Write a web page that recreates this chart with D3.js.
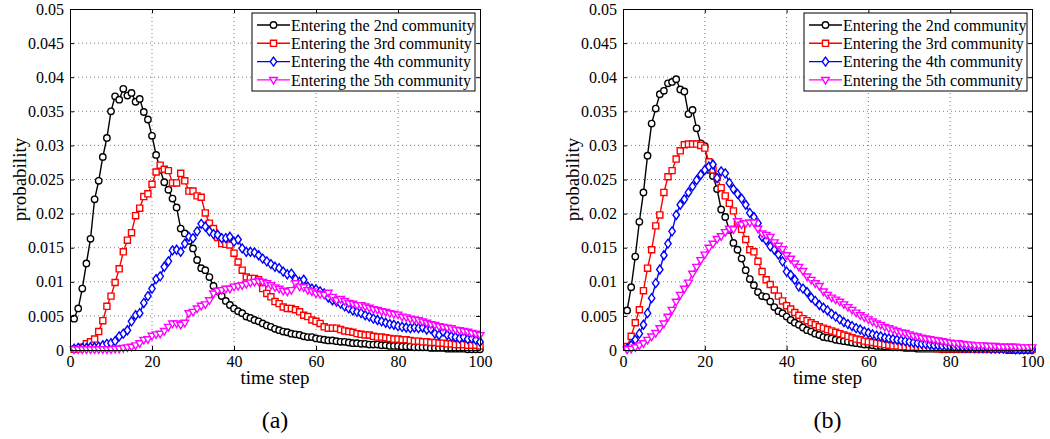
<!DOCTYPE html>
<html>
<head>
<meta charset="utf-8">
<script src="https://cdn.jsdelivr.net/npm/d3@7"></script>
<style>
    body { margin: 0; background: #fff; }
    svg { font-family: 'Liberation Serif', Times, serif; }
</style>
</head>
<body>
<svg id="chart" width="1050" height="439"></svg>
<script>
// probabilities in units of 0.001, one value per time step 1..100
const panelA_2nd = [
    4.6, 6.1, 9.0, 12.7, 16.3, 22.1, 24.8, 28.3, 31.1, 35.0,
    37.2, 36.7, 38.3, 37.3, 37.7, 36.4, 36.8, 34.9, 33.8, 31.4,
    28.6, 26.4, 24.6, 23.5, 22.2, 20.9, 17.8, 17.1, 16.0, 14.9,
    13.2, 12.0, 11.7, 10.7, 9.4, 8.6, 7.9, 7.2, 6.6, 6.1,
    5.7, 5.4, 4.9, 4.7, 4.4, 4.2, 3.9, 3.6, 3.4, 3.1,
    2.9, 2.7, 2.6, 2.4, 2.3, 2.2, 2.0, 1.9, 1.9, 1.7,
    1.6, 1.5, 1.4, 1.4, 1.3, 1.2, 1.2, 1.1, 1.0, 1.0,
    0.9, 0.9, 0.8, 0.8, 0.8, 0.7, 0.7, 0.6, 0.6, 0.6,
    0.5, 0.5, 0.5, 0.4, 0.4, 0.4, 0.4, 0.3, 0.3, 0.3,
    0.3, 0.2, 0.2, 0.2, 0.2, 0.2, 0.1, 0.1, 0.1, 0.1
];
const panelA_3rd = [
    0.1, 0.2, 0.4, 0.9, 1.2, 1.6, 2.7, 4.3, 6.4, 7.9,
    9.9, 11.9, 14.4, 16.1, 17.2, 19.7, 20.8, 22.5, 22.9, 24.3,
    26.1, 27.1, 26.5, 26.3, 24.5, 24.5, 25.9, 24.8, 23.3, 23.3,
    22.6, 22.4, 20.1, 18.6, 17.8, 16.5, 15.6, 15.5, 15.4, 14.2,
    12.9, 11.7, 10.7, 10.5, 10.5, 10.3, 9.0, 8.3, 7.8, 7.1,
    6.8, 6.3, 6.1, 6.1, 5.9, 5.6, 5.1, 4.9, 4.4, 4.2,
    3.9, 3.4, 3.2, 3.2, 3.2, 3.0, 2.8, 2.7, 2.6, 2.4,
    2.3, 2.2, 2.2, 2.0, 1.9, 1.9, 1.8, 1.7, 1.6, 1.6,
    1.5, 1.5, 1.4, 1.3, 1.3, 1.2, 1.2, 1.1, 1.1, 1.0,
    1.0, 0.9, 0.9, 0.8, 0.8, 0.8, 0.7, 0.7, 0.7, 0.6
];
const panelA_4th = [
    0.2, 0.3, 0.3, 0.3, 0.4, 0.4, 0.5, 0.7, 0.9, 1.0,
    1.3, 2.0, 2.4, 2.9, 4.2, 5.1, 5.4, 6.9, 7.9, 9.0,
    10.4, 10.8, 12.2, 13.0, 14.6, 14.7, 14.4, 15.6, 16.6, 16.4,
    17.4, 18.5, 18.1, 17.4, 17.0, 16.9, 16.4, 16.4, 16.6, 15.9,
    16.2, 14.9, 14.4, 14.4, 14.3, 13.9, 13.4, 13.0, 12.6, 12.2,
    12.0, 11.5, 11.1, 11.2, 10.4, 10.0, 10.3, 9.3, 9.0, 8.9,
    8.6, 8.3, 7.7, 7.3, 7.1, 6.8, 6.4, 6.1, 5.8, 5.6,
    5.4, 5.1, 4.9, 4.6, 4.4, 4.2, 4.0, 3.8, 3.7, 3.5,
    3.4, 3.3, 3.2, 3.3, 3.2, 3.3, 3.0, 3.1, 2.4, 2.2,
    2.7, 2.2, 2.0, 1.9, 1.7, 1.9, 1.6, 1.7, 1.5, 1.2
];
const panelA_5th = [
    0.1, 0.1, 0.1, 0.1, 0.1, 0.1, 0.1, 0.1, 0.1, 0.1,
    0.2, 0.2, 0.3, 0.4, 0.5, 0.7, 1.0, 1.5, 1.6, 2.1,
    2.3, 2.4, 2.8, 3.4, 3.9, 3.9, 3.7, 4.0, 5.4, 5.6,
    6.1, 6.5, 6.7, 7.3, 8.3, 8.7, 8.8, 9.0, 9.0, 9.3,
    9.4, 9.5, 9.7, 9.9, 10.0, 10.1, 10.0, 9.8, 9.5, 9.2,
    9.0, 8.7, 8.6, 8.8, 9.8, 9.3, 9.2, 8.8, 8.6, 8.3,
    8.2, 8.1, 8.4, 7.8, 7.3, 7.5, 7.2, 6.9, 6.8, 6.6,
    6.6, 6.4, 6.2, 6.0, 5.9, 5.7, 5.6, 5.4, 5.3, 5.2,
    4.9, 4.8, 4.6, 4.5, 4.4, 4.2, 4.0, 3.8, 3.7, 3.5,
    3.4, 3.3, 3.2, 3.0, 2.9, 2.8, 2.7, 2.5, 2.4, 2.2
];
const panelB_2nd = [
    5.8, 9.2, 13.7, 18.8, 23.1, 28.5, 33.2, 35.4, 37.5, 38.0,
    39.1, 39.3, 39.7, 38.2, 37.9, 34.6, 35.2, 32.5, 30.3, 29.9,
    26.4, 25.5, 23.6, 20.6, 19.5, 17.6, 15.7, 14.7, 13.4, 11.7,
    10.4, 9.5, 8.5, 7.9, 7.8, 7.1, 6.3, 5.7, 5.4, 4.9,
    4.4, 4.0, 3.7, 3.3, 2.9, 2.7, 2.4, 2.2, 1.9, 1.8,
    1.7, 1.5, 1.4, 1.3, 1.2, 1.1, 1.0, 0.9, 0.8, 0.8,
    0.7, 0.6, 0.6, 0.5, 0.5, 0.4, 0.4, 0.4, 0.3, 0.3,
    0.3, 0.2, 0.2, 0.2, 0.2, 0.2, 0.2, 0.1, 0.1, 0.1,
    0.1, 0.1, 0.1, 0.1, 0.1, 0.1, 0.1, 0.1, 0.1, 0.1,
    0.1, 0.1, 0.1, 0.0, 0.0, 0.0, 0.0, 0.0, 0.0, 0.0
];
const panelB_3rd = [
    0.5, 2.0, 4.0, 5.9, 8.7, 12.0, 14.7, 18.2, 19.8, 23.1,
    25.4, 26.3, 28.0, 29.2, 30.1, 30.2, 30.2, 30.2, 30.0, 29.6,
    27.6, 26.4, 25.3, 23.8, 22.6, 21.5, 20.4, 18.6, 17.7, 16.2,
    14.7, 14.4, 13.0, 11.5, 10.3, 9.6, 8.8, 7.9, 7.2, 6.5,
    6.0, 5.5, 5.1, 4.6, 4.3, 4.0, 3.7, 3.4, 3.2, 3.0,
    2.8, 2.6, 2.4, 2.2, 2.0, 1.8, 1.6, 1.5, 1.3, 1.2,
    1.1, 1.0, 0.9, 0.8, 0.7, 0.6, 0.6, 0.5, 0.5, 0.4,
    0.4, 0.4, 0.3, 0.3, 0.3, 0.3, 0.2, 0.2, 0.2, 0.2,
    0.2, 0.2, 0.2, 0.2, 0.2, 0.1, 0.1, 0.1, 0.1, 0.1,
    0.1, 0.1, 0.1, 0.1, 0.1, 0.1, 0.1, 0.1, 0.1, 0.1
];
const panelB_4th = [
    0.2, 0.7, 1.5, 2.4, 3.7, 5.4, 7.6, 9.8, 11.8, 13.9,
    15.6, 17.4, 19.8, 21.3, 22.1, 23.1, 24.0, 24.9, 25.7, 26.4,
    26.9, 27.2, 25.2, 26.2, 25.9, 24.5, 23.6, 22.9, 22.2, 21.3,
    20.1, 19.5, 18.6, 16.6, 16.1, 15.2, 14.7, 14.0, 13.0, 11.5,
    11.0, 10.3, 9.3, 9.0, 8.5, 7.7, 7.2, 6.6, 6.2, 5.8,
    5.3, 4.9, 4.5, 4.1, 3.8, 3.5, 3.2, 3.0, 2.7, 2.5,
    2.3, 2.1, 2.0, 1.8, 1.7, 1.6, 1.5, 1.4, 1.3, 1.2,
    1.1, 1.0, 0.9, 0.9, 0.8, 0.7, 0.7, 0.6, 0.6, 0.5,
    0.5, 0.5, 0.4, 0.4, 0.4, 0.3, 0.3, 0.3, 0.3, 0.2,
    0.2, 0.2, 0.2, 0.2, 0.2, 0.1, 0.1, 0.1, 0.1, 0.1
];
const panelB_5th = [
    0.1, 0.2, 0.4, 0.7, 1.0, 1.5, 2.0, 2.5, 3.2, 3.9,
    4.9, 5.9, 7.1, 8.1, 9.0, 9.9, 11.2, 12.2, 13.2, 14.0,
    15.0, 15.6, 16.3, 16.7, 17.3, 17.8, 17.7, 18.9, 18.4, 18.6,
    18.7, 18.7, 17.8, 17.1, 16.9, 16.6, 15.8, 15.3, 14.8, 13.9,
    13.4, 12.7, 12.2, 11.6, 10.8, 10.3, 9.8, 9.4, 8.6, 8.1,
    7.7, 7.4, 7.1, 6.7, 6.3, 5.9, 5.5, 5.1, 4.8, 4.5,
    4.2, 3.9, 3.7, 3.4, 3.2, 3.0, 2.8, 2.6, 2.5, 2.3,
    2.1, 2.0, 1.8, 1.7, 1.6, 1.5, 1.4, 1.3, 1.2, 1.1,
    1.0, 1.0, 0.9, 0.8, 0.8, 0.7, 0.7, 0.7, 0.6, 0.6,
    0.6, 0.5, 0.5, 0.5, 0.5, 0.5, 0.4, 0.4, 0.4, 0.4
];

const legendLabels = [
    'Entering the 2nd community',
    'Entering the 3rd community',
    'Entering the 4th community',
    'Entering the 5th community'
];
const xTicks = [0, 20, 40, 60, 80, 100];
const yTicks = [0, 0.005, 0.01, 0.015, 0.02, 0.025, 0.03, 0.035, 0.04, 0.045, 0.05];
const panelCaptions = ['(a)', '(b)'];

(function () {
    const svg = d3.select('#chart');
    const FONT = "'Liberation Serif', Times, serif";
    const plotTop = 9, plotBottom = 350, TICK = 4;

    const colors = ['#000000', '#ff0000', '#0000ff', '#ff00ff'];
    // marker shapes: circle, square, diamond, down triangle
    const markers = [
        { draw(c, s) { c.moveTo(s, 0); c.arc(0, 0, s, 0, 2 * Math.PI); } },
        { draw(c, s) { c.rect(-s * 0.95, -s * 0.95, s * 1.9, s * 1.9); } },
        { draw(c, s) { c.moveTo(0, -s * 1.4); c.lineTo(s, 0); c.lineTo(0, s * 1.4); c.lineTo(-s, 0); c.closePath(); } },
        { draw(c, s) { c.moveTo(-s * 1.2, -s * 0.75); c.lineTo(s * 1.2, -s * 0.75); c.lineTo(0, s * 1.3); c.closePath(); } }
    ];
    const markerSize = 3.2;

    let panels = [
        { left: 70, right: 480, caption: panelCaptions[0], series: [panelA_2nd, panelA_3rd, panelA_4th, panelA_5th] },
        { left: 623, right: 1032, caption: panelCaptions[1], series: [panelB_2nd, panelB_3rd, panelB_4th, panelB_5th] }
    ];

    panels.forEach(p => {
        let x = d3.scaleLinear().domain([0, 100]).range([p.left, p.right]);
        let y = d3.scaleLinear().domain([0, 0.05]).range([plotBottom, plotTop]);
        let g = svg.append('g');

        // dotted grid
        g.append('g').selectAll('line')
            .data(xTicks.slice(1, -1))
            .join('line')
            .attr('x1', d => x(d)).attr('x2', d => x(d))
            .attr('y1', plotTop).attr('y2', plotBottom)
            .attr('stroke', '#808080')
            .attr('stroke-dasharray', '1,3')
        ;
        g.append('g').selectAll('line')
            .data(yTicks.slice(1, -1))
            .join('line')
            .attr('x1', p.left).attr('x2', p.right)
            .attr('y1', d => y(d)).attr('y2', d => y(d))
            .attr('stroke', '#808080')
            .attr('stroke-dasharray', '1,3')
        ;

        // series lines + markers
        let line = d3.line()
            .x((d, i) => x(i + 1))
            .y(d => y(d / 1000))
        ;
        p.series.forEach((vals, k) => {
            g.append('path')
                .attr('d', line(vals))
                .attr('fill', 'none')
                .attr('stroke', colors[k])
                .attr('stroke-width', 1.4)
            ;
            g.append('g').selectAll('path')
                .data(vals)
                .join('path')
                .attr('transform', (d, i) => `translate(${x(i + 1)},${y(d / 1000)})`)
                .attr('d', d3.symbol(markers[k], markerSize))
                .attr('fill', '#fff')
                .attr('stroke', colors[k])
                .attr('stroke-width', 1.4)
            ;
        });

        // axes box with inward ticks
        let styleAxis = sel => {
            sel.attr('font-family', FONT).attr('font-size', 16);
            sel.select('.domain').attr('stroke', '#000').attr('stroke-width', 1);
            sel.selectAll('.tick line').attr('stroke', '#000');
            sel.selectAll('.tick text').attr('fill', '#000').style('font-family', FONT);
        };
        g.append('g')
            .attr('transform', `translate(0,${plotBottom})`)
            .call(d3.axisBottom(x).tickValues(xTicks).tickSizeInner(-TICK).tickSizeOuter(0).tickPadding(6))
            .call(styleAxis)
        ;
        g.append('g')
            .attr('transform', `translate(0,${plotTop})`)
            .call(d3.axisTop(x).tickValues(xTicks).tickSizeInner(-TICK).tickSizeOuter(0).tickFormat(''))
            .call(styleAxis)
        ;
        g.append('g')
            .attr('transform', `translate(${p.left},0)`)
            .call(d3.axisLeft(y).tickValues(yTicks).tickSizeInner(-TICK).tickSizeOuter(0).tickPadding(6).tickFormat(d => String(d)))
            .call(styleAxis)
        ;
        g.append('g')
            .attr('transform', `translate(${p.right},0)`)
            .call(d3.axisRight(y).tickValues(yTicks).tickSizeInner(-TICK).tickSizeOuter(0).tickFormat(''))
            .call(styleAxis)
        ;

        // axis titles and caption
        g.append('text')
            .attr('x', (p.left + p.right) / 2)
            .attr('y', 384)
            .attr('text-anchor', 'middle')
            .style('font-family', FONT).style('font-size', '19px')
            .text('time step')
        ;
        g.append('text')
            .attr('transform', `translate(${p.left - 44},${(plotTop + plotBottom) / 2}) rotate(-90)`)
            .attr('text-anchor', 'middle')
            .style('font-family', FONT).style('font-size', '19px')
            .text('probability')
        ;
        g.append('text')
            .attr('x', (p.left + p.right) / 2)
            .attr('y', 428)
            .attr('text-anchor', 'middle')
            .style('font-family', FONT).style('font-size', '24px')
            .text(p.caption)
        ;

        // legend
        const LW = 223, LH = 78;
        let lg = g.append('g')
            .attr('transform', `translate(${p.right - 5 - LW},${plotTop + 4})`)
        ;
        lg.append('rect')
            .attr('width', LW).attr('height', LH)
            .attr('fill', '#fff').attr('stroke', '#000')
        ;
        legendLabels.forEach((label, k) => {
            let ry = 12 + k * 18.3;
            lg.append('line')
                .attr('x1', 5).attr('x2', 38)
                .attr('y1', ry).attr('y2', ry)
                .attr('stroke', colors[k]).attr('stroke-width', 1.4)
            ;
            lg.append('path')
                .attr('transform', `translate(21.5,${ry})`)
                .attr('d', d3.symbol(markers[k], markerSize))
                .attr('fill', '#fff')
                .attr('stroke', colors[k])
                .attr('stroke-width', 1.4)
            ;
            lg.append('text')
                .attr('x', 39).attr('y', ry)
                .attr('dy', '0.35em')
                .style('font-family', FONT).style('font-size', '16px')
                .text(label)
            ;
        });
    });
}());
</script>
</body>
</html>
